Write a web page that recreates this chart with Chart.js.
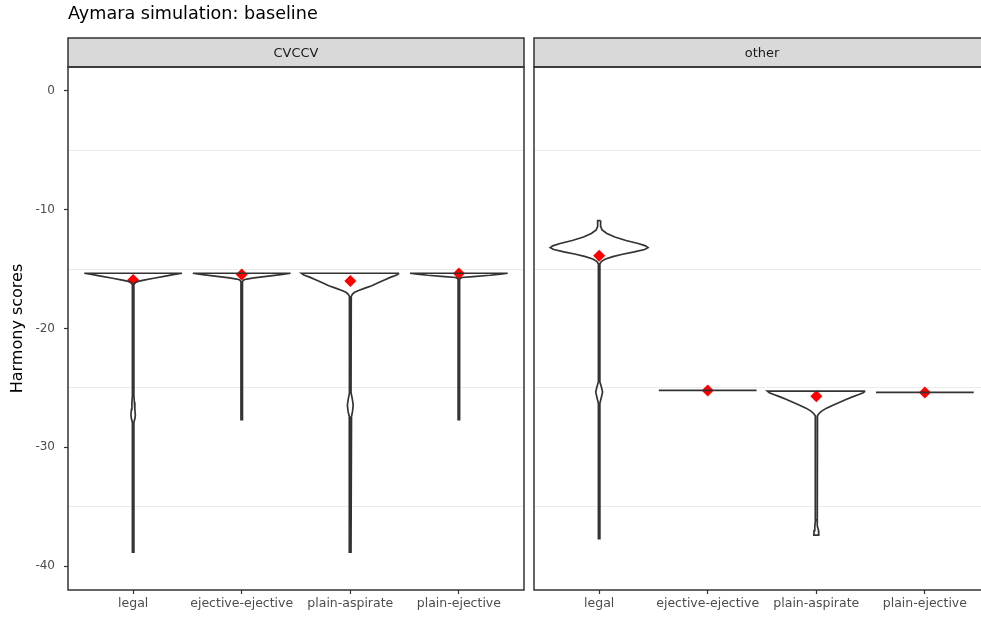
<!DOCTYPE html>
<html>
<head>
<meta charset="utf-8">
<script src="https://cdn.jsdelivr.net/npm/chart.js@4.4.1/dist/chart.umd.min.js"></script>
<style>
  html, body { margin: 0; padding: 0; background: #fff; }
  #page { position: relative; width: 981px; height: 617px; overflow: hidden; }
  .panel { position: absolute; top: 0; height: 617px; }
  #left { left: 0; width: 530px; }
  #right { left: 528px; width: 468px; }
</style>
</head>
<body>
<div id="page">
  <div class="panel" id="left"><canvas id="cvccv"></canvas></div>
  <div class="panel" id="right"><canvas id="other"></canvas></div>
</div>
<script>
// categories and panels
const categories = ["legal", "ejective-ejective", "plain-aspirate", "plain-ejective"];
const panelNames = ["CVCCV", "other"];

// mean harmony score per category (red diamonds)
const cvccvMeans = [-15.91, -15.45, -16.0, -15.38];
const otherMeans = [-13.87, -25.21, -25.71, -25.38];

// y axis ticks
const yMajorTicks = [0, -10, -20, -30, -40];
const yMinorTicks = [-5, -15, -25, -35];

// violin outlines: [score, relative width]
const cvccvLegal = [
  [-15.35, 1.0], [-15.47, 0.82], [-15.57, 0.69], [-15.77, 0.42], [-15.93, 0.22],
  [-16.04, 0.1], [-16.15, 0.04], [-16.3, 0.015],
  [-25.6, 0.015], [-26.2, 0.025], [-26.8, 0.035], [-27.3, 0.045], [-27.6, 0.035],
  [-27.9, 0.015], [-38.82, 0.015]
];
const cvccvEjectiveEjective = [
  [-15.35, 1.0], [-15.46, 0.8], [-15.57, 0.59], [-15.74, 0.25], [-15.84, 0.1],
  [-15.92, 0.04], [-16.05, 0.015], [-27.67, 0.015]
];
const cvccvPlainAspirate = [
  [-15.35, 1.0], [-15.5, 0.95], [-15.7, 0.82], [-15.9, 0.71], [-16.15, 0.57],
  [-16.4, 0.44], [-16.6, 0.3], [-16.8, 0.17], [-16.95, 0.09], [-17.1, 0.045],
  [-17.3, 0.02], [-17.5, 0.015],
  [-25.4, 0.015], [-25.9, 0.04], [-26.45, 0.06], [-27.0, 0.045], [-27.4, 0.025],
  [-27.65, 0.015], [-38.82, 0.015]
];
const cvccvPlainEjective = [
  [-15.35, 1.0], [-15.42, 0.85], [-15.52, 0.64], [-15.63, 0.29], [-15.71, 0.06],
  [-15.8, 0.025], [-15.88, 0.015], [-27.67, 0.015]
];
const otherLegal = [
  [-10.92, 0.03], [-11.4, 0.03], [-11.7, 0.06], [-12.0, 0.16], [-12.3, 0.32],
  [-12.6, 0.55], [-12.85, 0.8], [-13.05, 0.95], [-13.2, 1.0], [-13.35, 0.93],
  [-13.55, 0.72], [-13.75, 0.48], [-13.95, 0.28], [-14.15, 0.13], [-14.35, 0.05],
  [-14.55, 0.015],
  [-24.5, 0.015], [-24.9, 0.045], [-25.35, 0.07], [-25.8, 0.045], [-26.3, 0.015],
  [-37.67, 0.015]
];
const otherEjectiveEjective = [[-25.21, 1.0]];
const otherPlainAspirate = [
  [-25.27, 1.0], [-25.4, 0.96], [-25.55, 0.87], [-25.75, 0.74], [-25.95, 0.62],
  [-26.2, 0.48], [-26.45, 0.34], [-26.7, 0.21], [-26.95, 0.11], [-27.15, 0.055],
  [-27.35, 0.025], [-27.55, 0.015],
  [-36.1, 0.015], [-36.6, 0.03], [-37.0, 0.045], [-37.35, 0.05], [-37.39, 0.05]
];
const otherPlainEjective = [[-25.38, 1.0]];

const cvccvViolins = [cvccvLegal, cvccvEjectiveEjective, cvccvPlainAspirate, cvccvPlainEjective];
const otherViolins = [otherLegal, otherEjectiveEjective, otherPlainAspirate, otherPlainEjective];

const FONT = "'DejaVu Sans'";
const maxHalf = 0.45;

// closed outline: right side top->bottom, left side bottom->top
function outline(pos, profile) {
  const right = profile.map(([v, w]) => ({ x: pos + w * maxHalf, y: v }));
  const left = profile.slice().reverse().map(([v, w]) => ({ x: pos - w * maxHalf, y: v }));
  return right.concat(left, [right[0]]);
}

function makeDatasets(violins, means) {
  const sets = violins.map((p, i) => ({
    data: outline(i + 1, p),
    showLine: true,
    borderColor: "#333333",
    borderWidth: 1.7,
    pointRadius: 0,
    fill: false,
    tension: 0
  }));
  sets.push({
    data: means.map((m, i) => ({ x: i + 1, y: m })),
    pointStyle: "rectRot",
    pointRadius: 6,
    backgroundColor: "#ff0000",
    borderColor: "#ff0000",
    borderWidth: 0
  });
  return sets;
}

// strip, panel border and the main title
const panelDecor = {
  id: "panelDecor",
  afterDraw(chart, args, opts) {
    const { ctx, chartArea: a } = chart;
    ctx.save();
    ctx.fillStyle = "#d9d9d9";
    ctx.fillRect(a.left, a.top - 29, a.width, 29);
    ctx.strokeStyle = "#333333";
    ctx.lineWidth = 1.5;
    ctx.strokeRect(a.left, a.top - 29, a.width, 29);
    ctx.strokeRect(a.left, a.top, a.width, a.height);
    ctx.fillStyle = "#1a1a1a";
    ctx.font = "13px " + FONT;
    ctx.textAlign = "center";
    ctx.textBaseline = "middle";
    ctx.fillText(opts.strip, a.left + a.width / 2, a.top - 13.5);
    if (opts.title) {
      ctx.fillStyle = "#000000";
      ctx.font = "17.6px " + FONT;
      ctx.textAlign = "left";
      ctx.textBaseline = "alphabetic";
      ctx.fillText(opts.title, a.left, 19);
    }
    ctx.restore();
  }
};

function makeChart(id, violins, means, strip, first) {
  return new Chart(document.getElementById(id), {
    type: "scatter",
    data: { datasets: makeDatasets(violins, means) },
    plugins: [panelDecor],
    options: {
      responsive: true,
      maintainAspectRatio: false,
      animation: false,
      layout: { padding: first ? { left: 0, right: 6, top: 67, bottom: 0 } : { left: 0, right: 0, top: 67, bottom: 0 } },
      plugins: {
        legend: { display: false },
        tooltip: { enabled: false },
        panelDecor: { strip: strip, title: first ? "Aymara simulation: baseline" : null }
      },
      scales: {
        x: {
          type: "linear",
          min: 0.4,
          max: 4.6,
          afterBuildTicks: (s) => { s.ticks = categories.map((c, i) => ({ value: i + 1 })); },
          afterFit: (s) => { s.height = 27; },
          border: { display: false },
          grid: { drawOnChartArea: false, tickLength: 4, tickColor: "#333333", tickWidth: 1.2 },
          ticks: {
            autoSkip: false,
            maxRotation: 0,
            padding: 2,
            color: "#4d4d4d",
            font: { family: FONT, size: 12.5 },
            callback: (v) => categories[v - 1]
          }
        },
        y: {
          type: "linear",
          min: -42.0,
          max: 2.0,
          afterBuildTicks: (s) => { s.ticks = yMajorTicks.concat(yMinorTicks).map((v) => ({ value: v })); },
          afterFit: (s) => { s.width = first ? 68 : 0; },
          border: { display: false },
          grid: {
            color: (c) => (yMajorTicks.includes(c.tick.value) ? "rgba(0,0,0,0)" : "#ebebeb"),
            lineWidth: 1,
            drawTicks: first,
            tickLength: 4,
            tickWidth: 1.2,
            tickColor: (c) => (yMajorTicks.includes(c.tick.value) ? "#333333" : "rgba(0,0,0,0)")
          },
          title: {
            display: first,
            text: "Harmony scores",
            color: "#000000",
            font: { family: FONT, size: 16 },
            padding: { top: 8, bottom: 0 }
          },
          ticks: {
            display: first,
            padding: 9,
            color: "#4d4d4d",
            font: { family: FONT, size: 12 },
            callback: (v) => (yMajorTicks.includes(v) ? String(v) : "")
          }
        }
      }
    }
  });
}

makeChart("cvccv", cvccvViolins, cvccvMeans, panelNames[0], true);
makeChart("other", otherViolins, otherMeans, panelNames[1], false);
</script>
</body>
</html>
